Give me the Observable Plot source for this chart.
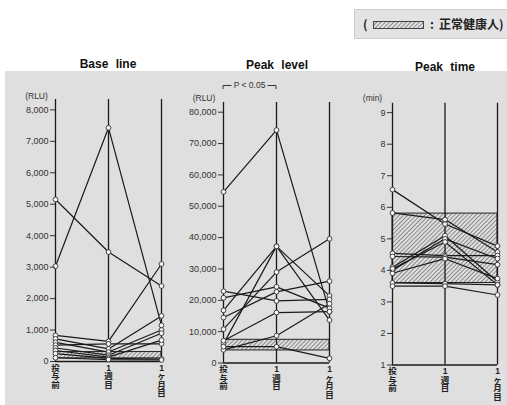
<!DOCTYPE html>
<html><head><meta charset="utf-8">
<script src="https://cdn.jsdelivr.net/npm/d3@7"></script>
<script src="https://cdn.jsdelivr.net/npm/@observablehq/plot@0.6"></script>
<style>
body{margin:0;background:#fff;}
#wrap{position:relative;width:507px;height:405px;overflow:hidden;font-family:"Liberation Sans","Noto Sans CJK JP",sans-serif;}
#bg{position:absolute;left:5px;top:71px;width:502px;height:334px;background:#dfdfdf;}
.title{position:absolute;font-weight:bold;font-size:12px;word-spacing:4px;transform:translate(-50%,-50%);white-space:nowrap;color:#111;}
.panel{position:absolute;top:0;}
#legend{position:absolute;left:354px;top:9px;width:160px;height:28px;background:#e3e3e3;border:1px solid #cfcfcf;font-family:"Noto Sans CJK JP",sans-serif;font-size:12px;font-weight:bold;color:#222;}
#legend span{position:absolute;top:50%;transform:translateY(-52%);white-space:nowrap;}
#legend svg{position:absolute;left:18px;top:11px;}
</style></head>
<body>
<div id="wrap">
  <div id="bg"></div>
  <div id="legend">
    <span style="left:8px">(</span>
    <svg width="51" height="8"><defs><pattern id="lh" patternUnits="userSpaceOnUse" width="3" height="3" patternTransform="rotate(45)"><line x1="0" y1="0" x2="0" y2="3" stroke="#333" stroke-width="1"/></pattern></defs><rect x="0.5" y="0.5" width="50" height="7" fill="url(#lh)" stroke="#333" stroke-width="0.9"/></svg>
    <span style="left:75px">:</span>
    <span style="left:84px">正常健康人)</span>
  </div>
  <div class="title" style="left:108px;top:64px">Base line</div>
  <div class="title" style="left:277px;top:65px">Peak level</div>
  <div class="title" style="left:445px;top:67px">Peak time</div>
</div>
<script>
// ---- data ----
const categories = ["投与前", "1週目", "1ヶ月目"];

const baseLine = [ // RLU
  [5150, 3480, 2400],
  [3030, 7430, 1150],
  [830, 640, 3100],
  [720, 400, 1450],
  [610, 300, 1000],
  [520, 560, 560],
  [430, 200, 900],
  [350, 140, 680],
  [250, 100, 80],
  [120, 60, 50]
];
const baseNormal = [100, 300];
const baseTicks = [0, 1000, 2000, 3000, 4000, 5000, 6000, 7000, 8000];

const peakLevel = [ // RLU
  [54600, 74300, 16400],
  [16800, 37200, 13700],
  [6100, 37200, 21400],
  [10800, 29000, 39600],
  [22900, 19800, 20300],
  [20800, 24300, 17500],
  [14500, 22700, 26100],
  [7100, 16100, 16400],
  [4200, 8700, 18900],
  [5200, 5200, 1500]
];
const peakNormal = [4000, 7400];
const peakTicks = [0, 10000, 20000, 30000, 40000, 50000, 60000, 70000, 80000];

const peakTime = [ // min
  [6.56, 5.47, 4.77],
  [5.82, 5.61, 4.58],
  [4.54, 4.47, 4.47],
  [4.44, 4.42, 4.18],
  [4.10, 5.10, 3.64],
  [4.00, 5.00, 4.37],
  [3.91, 4.37, 3.74],
  [4.05, 4.90, 3.54],
  [3.60, 3.58, 3.54],
  [3.50, 3.50, 3.22]
];
const timeNormal = [3.6, 5.8];
const timeTicks = [1, 2, 3, 4, 5, 6, 7, 8, 9];

const pNote = {from: 0, to: 1, label: "P < 0.05"};

// ---- drawing ----
function panel(o) {
  const rows = o.values.flatMap((s, i) => s.map((v, j) => ({id: i, t: j, v})));
  const idx = categories.map((c, i) => i);
  const marks = [
    Plot.rect([o.band], {x1: 0, x2: categories.length - 1, y1: d => d[0], y2: d => d[1],
      fill: `url(#${o.hatch})`, stroke: "#222", strokeWidth: 1}),
    Plot.ruleX(idx, {stroke: "#1a1a1a", strokeWidth: 1.3}),
    Plot.ruleY([o.domain[0]], {stroke: "#1a1a1a", strokeWidth: 1.3}),
    Plot.line(rows, {x: "t", y: "v", z: "id", stroke: "#1a1a1a", strokeWidth: 1.2}),
    Plot.dot(rows, {x: "t", y: "v", r: 2.4, fill: "#f7f7f7", stroke: "#333", strokeWidth: 0.9}),
    Plot.axisY({ticks: o.ticks, tickFormat: o.fmt, tickSize: 5, tickPadding: 2, label: null,
      fontSize: 9, stroke: "#333", fill: "#333"}),
    Plot.axisX({ticks: idx, tickFormat: i => categories[i].split("").join("\n"), tickSize: 0,
      tickPadding: 3, label: null, lineAnchor: "top", fontSize: 8.5, lineHeight: 1.0, fill: "#222", fontWeight: "bold"}),
    Plot.text([o.unit], {frameAnchor: "top-left", dx: o.unitDx, dy: o.unitDy, fontSize: 8.5, fill: "#333", textAnchor: "middle"})
  ];
  if (o.p) {
    marks.push((index, scales, values, dims) => {
      const sx = typeof scales.x === "function" ? scales.x
        : (v => dims.marginLeft + v * (dims.width - dims.marginLeft - dims.marginRight) / (categories.length - 1));
      const xa = sx(o.p.from), xb = sx(o.p.to), y = dims.marginTop - 16.5;
      const g = d3.create("svg:g");
      g.append("path").attr("d", `M${xa},${y + 3.5}V${y}H${xa + 8.5}M${xb - 8.5},${y}H${xb}V${y + 3.5}`)
        .attr("fill", "none").attr("stroke", "#333").attr("stroke-width", 1);
      g.append("text").attr("x", (xa + xb) / 2).attr("y", y).attr("dy", "0.35em")
        .attr("text-anchor", "middle").attr("font-size", 8.5).attr("fill", "#333").text(o.p.label);
      return g.node();
    });
  }
  const svg = Plot.plot({
    width: o.width, height: 405,
    marginLeft: o.ml, marginRight: o.mr, marginTop: o.mt, marginBottom: o.mb,
    x: {domain: [0, categories.length - 1]},
    y: {domain: o.domain},
    style: {background: "transparent", fontFamily: "'Liberation Sans','Noto Sans CJK JP',sans-serif", color: "#222", overflow: "visible"},
    marks
  });
  const defs = document.createElementNS("http://www.w3.org/2000/svg", "defs");
  defs.innerHTML = `<pattern id="${o.hatch}" patternUnits="userSpaceOnUse" width="3" height="3" patternTransform="rotate(45)"><line x1="0" y1="0" x2="0" y2="3" stroke="#333" stroke-width="1"/></pattern>`;
  svg.insertBefore(defs, svg.firstChild);
  svg.classList.add("panel");
  svg.style.left = o.left + "px";
  svg.style.position = "absolute";
  svg.style.top = "0px";
  document.getElementById("wrap").appendChild(svg);
}

const fmtK = d3.format(",");
panel({values: baseLine, band: baseNormal, ticks: baseTicks, domain: [0, 8330], fmt: fmtK, unit: "(RLU)",
  left: 0, width: 170, ml: 55, mr: 9, mt: 99, mb: 44, hatch: "h1", unitDx: -19, unitDy: -7});
panel({values: peakLevel, band: peakNormal, ticks: peakTicks, domain: [0, 83100], fmt: fmtK, unit: "(RLU)",
  left: 170, width: 168, ml: 53, mr: 9, mt: 102, mb: 42.5, hatch: "h2", unitDx: -19.5, unitDy: -8, p: pNote});
panel({values: peakTime, band: timeNormal, ticks: timeTicks, domain: [1, 9.3], fmt: d => String(d), unit: "(min)",
  left: 338, width: 169, ml: 54, mr: 10, mt: 102.7, mb: 40.5, hatch: "h3", unitDx: -20, unitDy: -8.7});
</script>
</body></html>
